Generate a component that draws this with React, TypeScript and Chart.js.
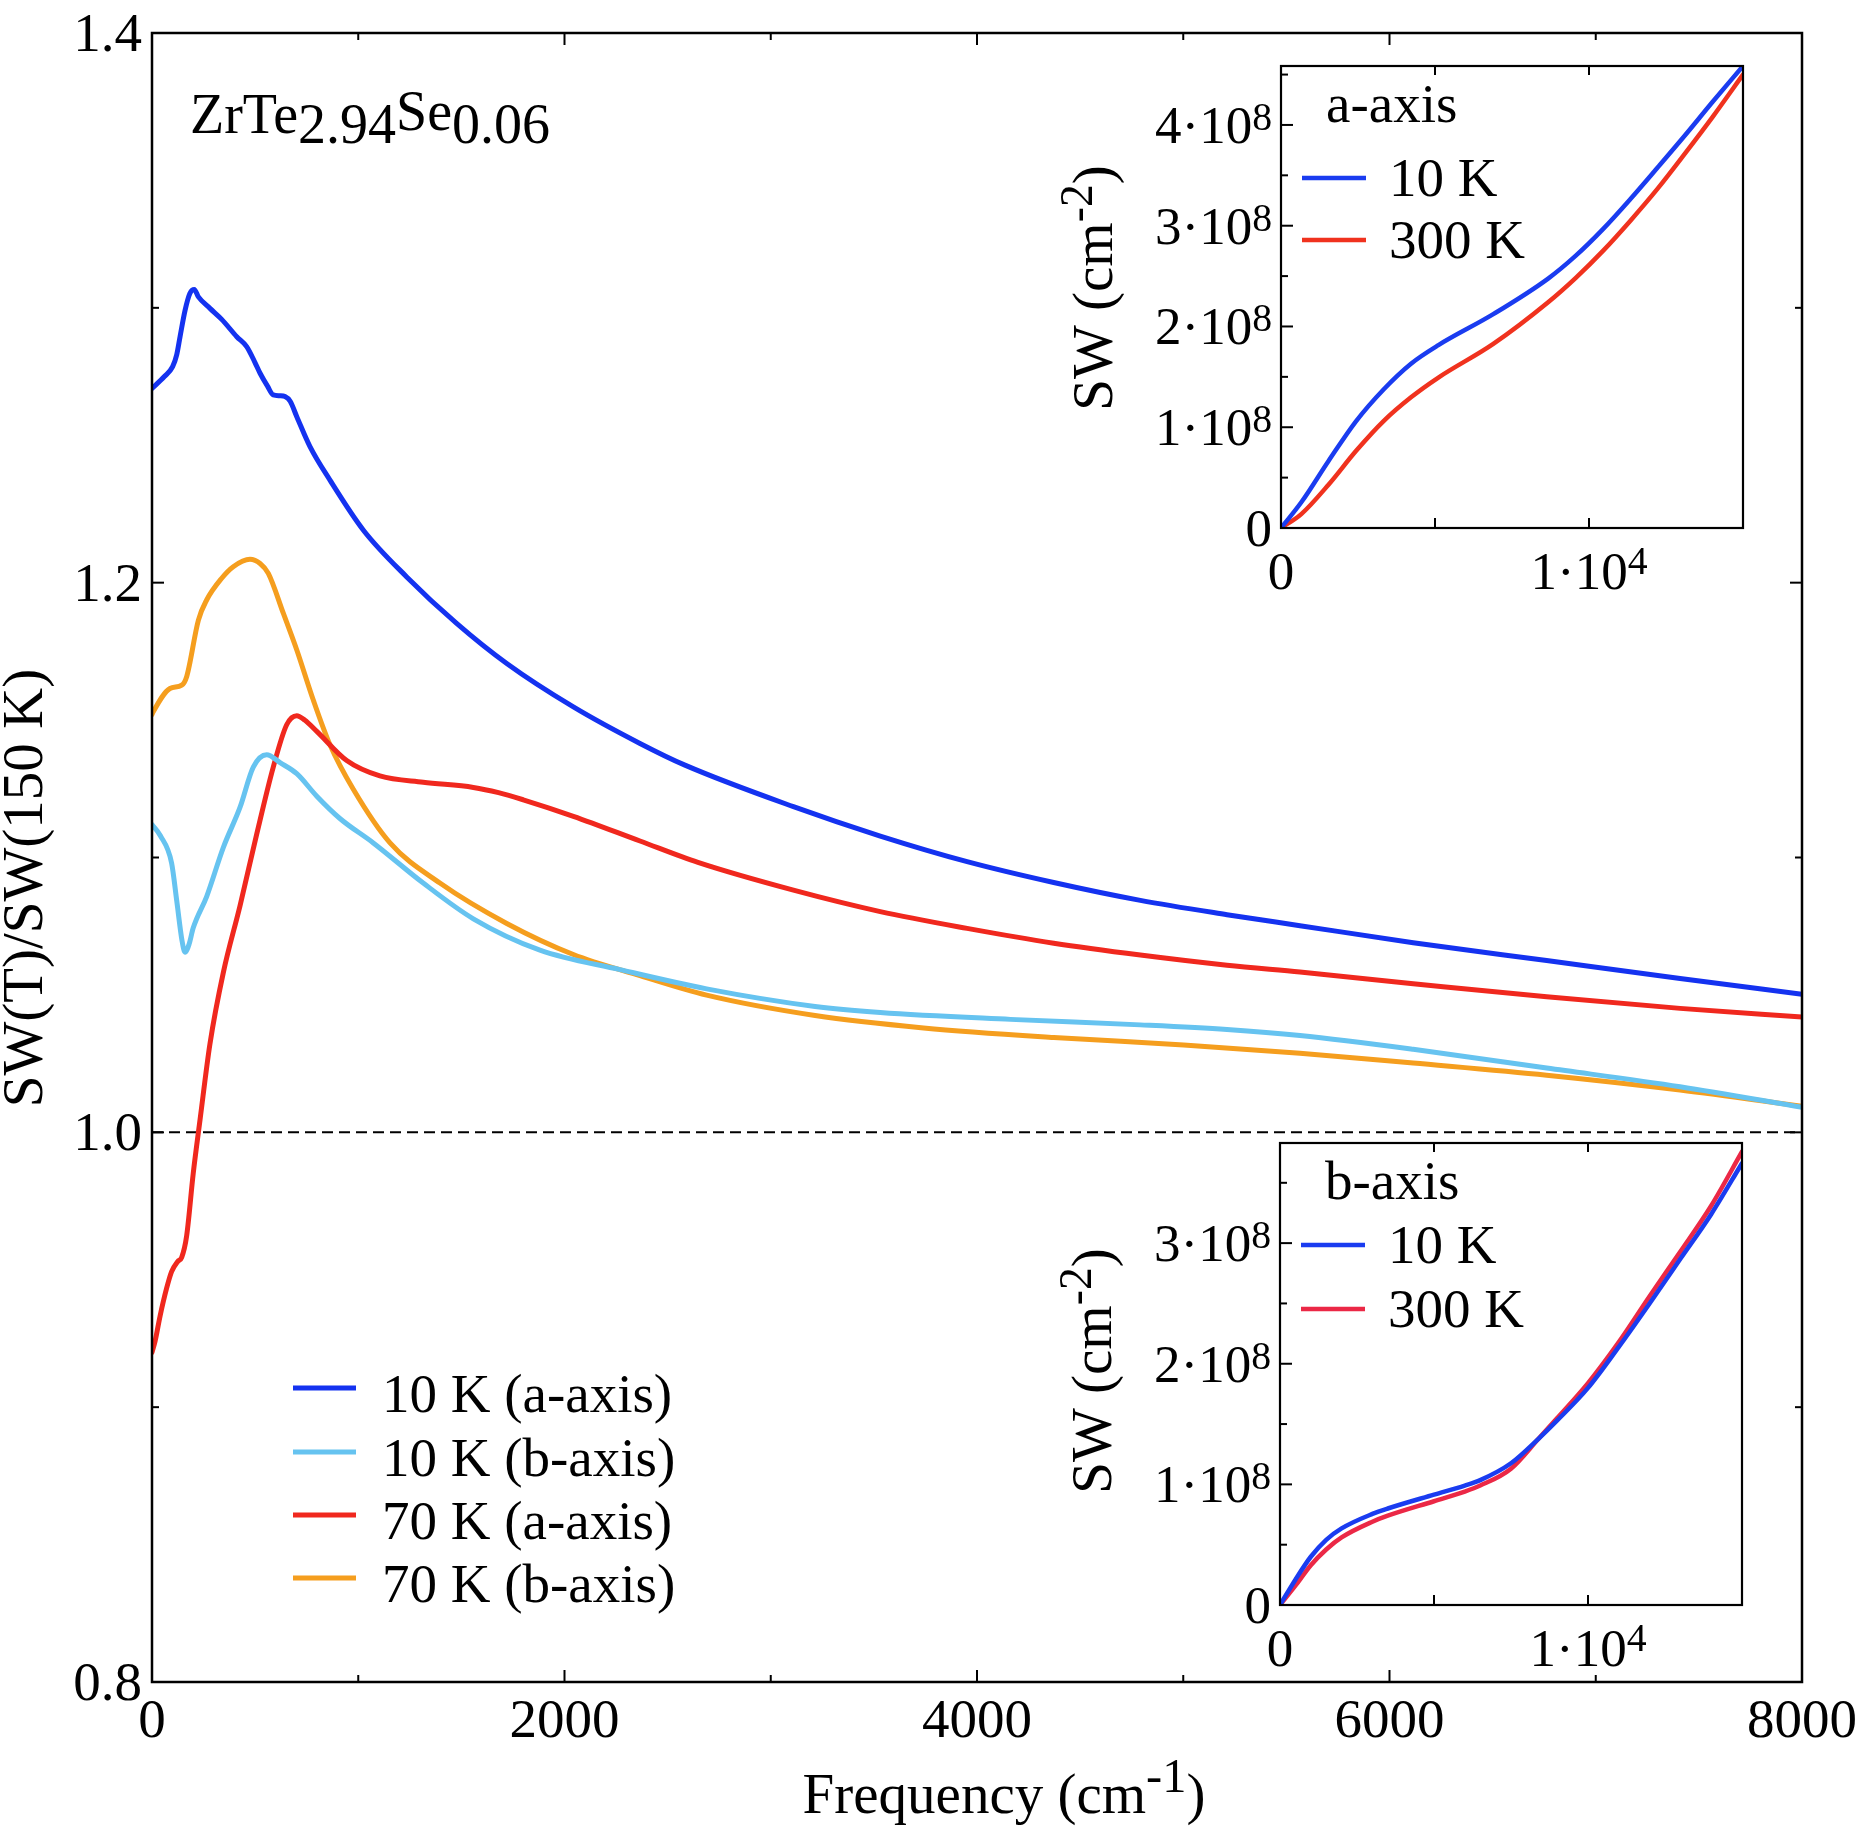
import React, { useEffect, useRef } from "react";
import { Chart, registerables } from "chart.js";

Chart.register(...registerables);

const W = 1860;
const H = 1830;
const FONT = '"Liberation Serif", "Times New Roman", Times, serif';

// ---------------- main chart data ----------------
const freq10a = [0, 60, 100, 120, 136, 160, 184, 205, 225, 281, 338, 411, 459, 500, 524, 560, 588, 620, 645, 670, 702, 766, 863, 1025, 1235, 1477, 1720, 2043, 2366, 2584, 3110, 3531, 3952, 4372, 4792, 5212, 5566, 6115, 6762, 7409, 8000];
const sw10a = [1.2707, 1.275, 1.2786, 1.283, 1.2895, 1.299, 1.3053, 1.3067, 1.304, 1.2998, 1.2958, 1.2895, 1.2859, 1.28, 1.2762, 1.2715, 1.2683, 1.268, 1.2677, 1.266, 1.2604, 1.2495, 1.2373, 1.2191, 1.2021, 1.1852, 1.1706, 1.1548, 1.1415, 1.1336, 1.1185, 1.1078, 1.0985, 1.0909, 1.0844, 1.0792, 1.0752, 1.069, 1.0625, 1.056, 1.0502];

const freq10b = [0, 40, 95, 120, 145, 160, 180, 200, 265, 346, 427, 491, 556, 621, 702, 799, 911, 1073, 1315, 1558, 1881, 2269, 2689, 3215, 3531, 4162, 4792, 5212, 5566, 6115, 6762, 7409, 8000];
const sw10b = [1.112, 1.108, 1.098, 1.0842, 1.07, 1.0655, 1.0685, 1.0744, 1.0858, 1.1037, 1.1183, 1.1329, 1.1374, 1.1345, 1.1305, 1.1223, 1.1142, 1.1053, 1.0907, 1.0777, 1.0663, 1.0592, 1.0522, 1.0458, 1.0436, 1.0411, 1.0391, 1.0374, 1.0352, 1.0302, 1.0234, 1.0166, 1.0091];

const freq70a = [0, 15, 39, 70, 95, 125, 144, 168, 200, 233, 281, 346, 427, 508, 588, 653, 702, 740, 799, 944, 1105, 1315, 1558, 1680, 1800, 2043, 2366, 2647, 3110, 3531, 3952, 4372, 4792, 5212, 5566, 6115, 6762, 7409, 8000];
const sw70a = [0.92, 0.924, 0.9331, 0.943, 0.9493, 0.953, 0.9545, 0.9623, 0.9851, 1.0046, 1.0322, 1.0582, 1.0825, 1.1086, 1.1329, 1.1483, 1.1516, 1.15, 1.1459, 1.1353, 1.1297, 1.1274, 1.1255, 1.1236, 1.121, 1.115, 1.106, 1.0982, 1.0881, 1.0803, 1.0742, 1.0688, 1.0645, 1.0608, 1.0583, 1.0541, 1.0493, 1.0451, 1.042];

const freq70b = [0, 6, 87, 144, 168, 225, 265, 338, 394, 475, 524, 564, 637, 702, 782, 863, 976, 1154, 1396, 1720, 2043, 2366, 2689, 3215, 3741, 4372, 5002, 5566, 6115, 6762, 7409, 8000];
const sw70b = [1.152, 1.153, 1.1615, 1.1627, 1.1658, 1.1864, 1.1937, 1.2016, 1.2058, 1.2085, 1.207, 1.2034, 1.1888, 1.1755, 1.1573, 1.141, 1.1248, 1.1053, 1.0907, 1.076, 1.0647, 1.057, 1.0499, 1.0425, 1.038, 1.0345, 1.0318, 1.0288, 1.0252, 1.0208, 1.0154, 1.0095];

const mainLabels = ["10 K (a-axis)", "10 K (b-axis)", "70 K (a-axis)", "70 K (b-axis)"];
const mainColors = ["#1432F0", "#66C3F0", "#F0281E", "#F59E1E"];

const mainXTicks = [0, 2000, 4000, 6000, 8000];
const mainXMinor = [1000, 3000, 5000, 7000];
const mainYTicks = [0.8, 1.0, 1.2, 1.4];
const mainYTickLabels = ["0.8", "1.0", "1.2", "1.4"];
const mainYMinor = [0.9, 1.1, 1.3];
const refLine = 1.0;

// ---------------- inset a (a-axis) ----------------
const insetAFreq = [0, 659, 1549, 2440, 3330, 4221, 5111, 6892, 8673, 9563, 10454, 11345, 12235, 13126, 14016, 15000];
const insetA10K = [0, 0.255e8, 0.668e8, 1.061e8, 1.375e8, 1.631e8, 1.815e8, 2.122e8, 2.475e8, 2.7e8, 2.966e8, 3.265e8, 3.58e8, 3.9e8, 4.23e8, 4.585e8];
const insetA300K = [0, 0.138e8, 0.432e8, 0.766e8, 1.061e8, 1.297e8, 1.493e8, 1.827e8, 2.24e8, 2.48e8, 2.75e8, 3.05e8, 3.37e8, 3.72e8, 4.08e8, 4.499e8];

// ---------------- inset b (b-axis) ----------------
const insetBFreq = [0, 500, 1000, 1500, 2000, 3000, 3500, 5000, 6000, 6500, 7500, 8400, 9000, 10000, 11000, 12000, 13000, 14000, 15000];
const insetB10K = [0, 0.21e8, 0.4e8, 0.54e8, 0.635e8, 0.755e8, 0.8e8, 0.915e8, 0.99e8, 1.035e8, 1.175e8, 1.38e8, 1.53e8, 1.8e8, 2.14e8, 2.5e8, 2.87e8, 3.24e8, 3.662e8];
const insetB300K = [0, 0.16e8, 0.33e8, 0.46e8, 0.56e8, 0.69e8, 0.74e8, 0.86e8, 0.94e8, 0.99e8, 1.13e8, 1.38e8, 1.55e8, 1.84e8, 2.18e8, 2.56e8, 2.93e8, 3.31e8, 3.758e8];

const insetLabels = ["10 K", "300 K"];
const insetAColors = ["#1A3CF0", "#F0321E"];
const insetBColors = ["#1A3CF0", "#EB2846"];

const insetXTicks = [0, 10000];
const insetXMinor = [5000];
const insetAYTicks = [0, 1e8, 2e8, 3e8, 4e8];
const insetAYMinor = [0.5e8, 1.5e8, 2.5e8, 3.5e8, 4.5e8];
const insetBYTicks = [0, 1e8, 2e8, 3e8];
const insetBYMinor = [0.5e8, 1.5e8, 2.5e8, 3.5e8];

// ---------------- helpers ----------------
type Seg = { t: string; s?: number; dy?: number };

function drawSegs(
  ctx: CanvasRenderingContext2D,
  segs: Seg[],
  x: number,
  y: number,
  size: number,
  align: "left" | "center" | "right"
) {
  ctx.textAlign = "left";
  ctx.textBaseline = "alphabetic";
  const widths = segs.map((sg) => {
    ctx.font = `${size * (sg.s ?? 1)}px ${FONT}`;
    return ctx.measureText(sg.t).width;
  });
  const total = widths.reduce((a, b) => a + b, 0);
  let cx = align === "left" ? x : align === "center" ? x - total / 2 : x - total;
  segs.forEach((sg, i) => {
    ctx.font = `${size * (sg.s ?? 1)}px ${FONT}`;
    ctx.fillText(sg.t, cx, y + (sg.dy ?? 0));
    cx += widths[i];
  });
}

function pts(xs: number[], ys: number[]) {
  return xs.map((x, i) => ({ x, y: ys[i] }));
}

function line(ctx: CanvasRenderingContext2D, x1: number, y1: number, x2: number, y2: number) {
  ctx.beginPath();
  ctx.moveTo(x1, y1);
  ctx.lineTo(x2, y2);
  ctx.stroke();
}

// ---------------- main plugin ----------------
const mainPlugin = {
  id: "mainDeco",
  beforeDatasetsDraw(chart: any) {
    const { ctx, chartArea: a, scales } = chart;
    const py = scales.y.getPixelForValue(refLine);
    ctx.save();
    ctx.strokeStyle = "#000";
    ctx.lineWidth = 2;
    ctx.setLineDash([11, 6]);
    line(ctx, a.left, py, a.right, py);
    ctx.restore();
  },
  afterDatasetsDraw(chart: any) {
    const { ctx, chartArea: a, scales } = chart;
    const xs = scales.x;
    const ys = scales.y;
    ctx.save();
    ctx.strokeStyle = "#000";
    ctx.fillStyle = "#000";
    ctx.lineWidth = 2.5;
    ctx.strokeRect(a.left, a.top, a.right - a.left, a.bottom - a.top);
    ctx.lineWidth = 2;
    const maj = 12;
    const min = 7;
    mainXTicks.forEach((v) => {
      const px = xs.getPixelForValue(v);
      line(ctx, px, a.bottom, px, a.bottom - maj);
      line(ctx, px, a.top, px, a.top + maj);
    });
    mainXMinor.forEach((v) => {
      const px = xs.getPixelForValue(v);
      line(ctx, px, a.bottom, px, a.bottom - min);
      line(ctx, px, a.top, px, a.top + min);
    });
    mainYTicks.forEach((v) => {
      const py = ys.getPixelForValue(v);
      line(ctx, a.left, py, a.left + maj, py);
      line(ctx, a.right, py, a.right - maj, py);
    });
    mainYMinor.forEach((v) => {
      const py = ys.getPixelForValue(v);
      line(ctx, a.left, py, a.left + min, py);
      line(ctx, a.right, py, a.right - min, py);
    });

    // tick labels
    const fs = 55;
    mainXTicks.forEach((v) => {
      drawSegs(ctx, [{ t: String(v) }], xs.getPixelForValue(v), a.bottom + 55, fs, "center");
    });
    mainYTicks.forEach((v, i) => {
      drawSegs(ctx, [{ t: mainYTickLabels[i] }], a.left - 10, ys.getPixelForValue(v) + 18, fs, "right");
    });

    // axis titles
    const ts = 57;
    drawSegs(ctx, [{ t: "Frequency (cm" }, { t: "-1", s: 0.85, dy: -21 }, { t: ")" }], 1004, 1813, ts, "center");
    ctx.save();
    ctx.translate(42, 888);
    ctx.rotate(-Math.PI / 2);
    drawSegs(ctx, [{ t: "SW(T)/SW(150 K)" }], 0, 0, ts, "center");
    ctx.restore();

    // compound annotation
    drawSegs(
      ctx,
      [
        { t: "ZrTe" },
        { t: "2.94", dy: 10 },
        { t: "Se", dy: -3 },
        { t: "0.06", dy: 10 },
      ],
      190,
      133,
      56,
      "left"
    );

    // legend
    const rows = [1388, 1452, 1515, 1578];
    mainLabels.forEach((lab, i) => {
      ctx.strokeStyle = mainColors[i];
      ctx.lineWidth = 5;
      line(ctx, 293, rows[i], 356, rows[i]);
      ctx.fillStyle = "#000";
      drawSegs(ctx, [{ t: lab }], 382, rows[i] + 24, fs, "left");
    });
    ctx.restore();
  },
};

function mainConfig(): any {
  const xsArr = [freq10a, freq10b, freq70a, freq70b];
  const ysArr = [sw10a, sw10b, sw70a, sw70b];
  return {
    type: "scatter",
    data: {
      datasets: mainLabels.map((lab, i) => ({
        label: lab,
        data: pts(xsArr[i], ysArr[i]),
        borderColor: mainColors[i],
        backgroundColor: mainColors[i],
        borderWidth: 5,
        pointRadius: 0,
        showLine: true,
        fill: false,
        cubicInterpolationMode: "monotone",
        borderCapStyle: "round",
        borderJoinStyle: "round",
      })),
    },
    options: {
      responsive: false,
      animation: false,
      events: [],
      layout: { padding: { left: 152, top: 33, right: W - 1802, bottom: H - 1682 } },
      plugins: { legend: { display: false }, tooltip: { enabled: false } },
      scales: {
        x: { type: "linear", min: 0, max: 8000, display: false },
        y: { type: "linear", min: 0.8, max: 1.4, display: false },
      },
    },
    plugins: [mainPlugin],
  };
}

// ---------------- inset ----------------
type InsetCfg = {
  area: { left: number; top: number; right: number; bottom: number };
  yMax: number;
  yTicks: number[];
  yMinor: number[];
  title: string;
  legendRows: number[];
  titleCenterY: number;
  colors: string[];
  xs: number[][];
  ys: number[][];
};

function insetYLabel(v: number): Seg[] {
  if (v === 0) return [{ t: "0" }];
  return [{ t: `${v / 1e8}·10` }, { t: "8", s: 0.75, dy: -13 }];
}
function insetXLabel(v: number): Seg[] {
  if (v === 0) return [{ t: "0" }];
  return [{ t: `${v / 1e4}·10` }, { t: "4", s: 0.75, dy: -15 }];
}

function insetPlugin(cfg: InsetCfg) {
  return {
    id: "insetDeco",
    beforeDraw(chart: any) {
      const { ctx, chartArea: a } = chart;
      ctx.save();
      ctx.fillStyle = "#fff";
      ctx.fillRect(a.left, a.top, a.right - a.left, a.bottom - a.top);
      ctx.restore();
    },
    afterDatasetsDraw(chart: any) {
      const { ctx, chartArea: a, scales } = chart;
      const xs = scales.x;
      const ys = scales.y;
      ctx.save();
      ctx.strokeStyle = "#000";
      ctx.fillStyle = "#000";
      ctx.lineWidth = 2.2;
      ctx.strokeRect(a.left, a.top, a.right - a.left, a.bottom - a.top);
      ctx.lineWidth = 2;
      [...insetXTicks, ...insetXMinor].forEach((v) => {
        const px = xs.getPixelForValue(v);
        line(ctx, px, a.bottom, px, a.bottom - 10);
        line(ctx, px, a.top, px, a.top + 9);
      });
      cfg.yTicks.forEach((v) => {
        const py = ys.getPixelForValue(v);
        line(ctx, a.left, py, a.left + 12, py);
      });
      cfg.yMinor.forEach((v) => {
        const py = ys.getPixelForValue(v);
        if (py > a.top) line(ctx, a.left, py, a.left + 7, py);
      });
      const fs = 53;
      cfg.yTicks.forEach((v) => {
        drawSegs(ctx, insetYLabel(v), a.left - 9, ys.getPixelForValue(v) + 18, fs, "right");
      });
      insetXTicks.forEach((v) => {
        drawSegs(ctx, insetXLabel(v), xs.getPixelForValue(v), a.bottom + 61, fs, "center");
      });
      // y title
      ctx.save();
      ctx.translate(a.left - 169, cfg.titleCenterY);
      ctx.rotate(-Math.PI / 2);
      drawSegs(ctx, [{ t: "SW (cm" }, { t: "-2", s: 0.8, dy: -20 }, { t: ")" }], 0, 0, 57, "center");
      ctx.restore();
      // inner title & legend
      drawSegs(ctx, [{ t: cfg.title }], a.left + 45, a.top + 56, 55, "left");
      insetLabels.forEach((lab, i) => {
        const ly = a.top + cfg.legendRows[i];
        ctx.strokeStyle = cfg.colors[i];
        ctx.lineWidth = 4.5;
        line(ctx, a.left + 21, ly, a.left + 85, ly);
        ctx.fillStyle = "#000";
        drawSegs(ctx, [{ t: lab }], a.left + 108, ly + 18, 55, "left");
      });
      ctx.restore();
    },
  };
}

function insetConfig(cfg: InsetCfg): any {
  return {
    type: "scatter",
    data: {
      datasets: insetLabels.map((lab, i) => ({
        label: lab,
        data: pts(cfg.xs[i], cfg.ys[i]),
        borderColor: cfg.colors[i],
        backgroundColor: cfg.colors[i],
        borderWidth: 4.5,
        pointRadius: 0,
        showLine: true,
        fill: false,
        cubicInterpolationMode: "monotone",
        borderCapStyle: "round",
        borderJoinStyle: "round",
      })),
    },
    options: {
      responsive: false,
      animation: false,
      events: [],
      layout: {
        padding: {
          left: cfg.area.left,
          top: cfg.area.top,
          right: W - cfg.area.right,
          bottom: H - cfg.area.bottom,
        },
      },
      plugins: { legend: { display: false }, tooltip: { enabled: false } },
      scales: {
        x: { type: "linear", min: 0, max: 15000, display: false },
        y: { type: "linear", min: 0, max: cfg.yMax, display: false },
      },
    },
    plugins: [insetPlugin(cfg)],
  };
}

const insetA: InsetCfg = {
  area: { left: 1281, top: 66, right: 1743, bottom: 528 },
  yMax: 4.585e8,
  yTicks: insetAYTicks,
  yMinor: insetAYMinor,
  title: "a-axis",
  legendRows: [112, 174],
  titleCenterY: 288,
  colors: insetAColors,
  xs: [insetAFreq, insetAFreq],
  ys: [insetA10K, insetA300K],
};

const insetB: InsetCfg = {
  area: { left: 1280, top: 1143, right: 1742, bottom: 1605 },
  yMax: 3.83e8,
  yTicks: insetBYTicks,
  yMinor: insetBYMinor,
  title: "b-axis",
  legendRows: [102, 166],
  titleCenterY: 1371,
  colors: insetBColors,
  xs: [insetBFreq, insetBFreq],
  ys: [insetB10K, insetB300K],
};

export default function App() {
  const mainRef = useRef<HTMLCanvasElement>(null);
  const aRef = useRef<HTMLCanvasElement>(null);
  const bRef = useRef<HTMLCanvasElement>(null);

  useEffect(() => {
    const charts = [
      new Chart(mainRef.current as HTMLCanvasElement, mainConfig()),
      new Chart(aRef.current as HTMLCanvasElement, insetConfig(insetA)),
      new Chart(bRef.current as HTMLCanvasElement, insetConfig(insetB)),
    ];
    return () => charts.forEach((c) => c.destroy());
  }, []);

  const cs: React.CSSProperties = { position: "absolute", left: 0, top: 0, width: W, height: H };
  return (
    <div style={{ position: "absolute", left: 0, top: 0, width: W, height: H, background: "#fff" }}>
      <canvas ref={mainRef} width={W} height={H} style={cs} />
      <canvas ref={aRef} width={W} height={H} style={cs} />
      <canvas ref={bRef} width={W} height={H} style={cs} />
    </div>
  );
}
